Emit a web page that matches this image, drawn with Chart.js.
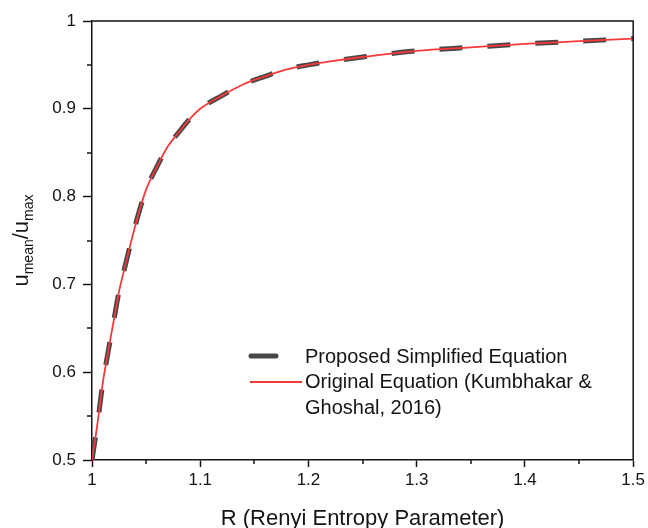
<!DOCTYPE html>
<html lang="en">
<head>
<meta charset="UTF-8">
<title>Velocity ratio vs Renyi entropy parameter</title>
<script src="https://cdn.jsdelivr.net/npm/chart.js@4.4.1/dist/chart.umd.min.js"></script>
<style>
  body {margin: 0; background: #fff;}
  #wrap {width: 648px; height: 528px;}
</style>
</head>
<body>
<div id="wrap"><canvas id="ratioChart" width="648" height="528"></canvas></div>
<script>
// R (Renyi entropy parameter) and the u_mean/u_max ratio for both equations
const rValues = [1.000, 1.005, 1.010, 1.015, 1.020, 1.025, 1.030, 1.035, 1.040, 1.045,
                 1.050, 1.060, 1.070, 1.080, 1.090, 1.100, 1.120, 1.140, 1.160, 1.180,
                 1.200, 1.220, 1.250, 1.300, 1.350, 1.400, 1.450, 1.500];
const simplifiedRatio = [0.500, 0.541, 0.588, 0.624, 0.658, 0.692, 0.718, 0.743, 0.767, 0.789,
                         0.808, 0.834, 0.857, 0.873, 0.888, 0.900, 0.915, 0.928, 0.937, 0.945,
                         0.950, 0.954, 0.959, 0.966, 0.970, 0.974, 0.977, 0.980];
const originalRatio = [0.500, 0.541, 0.588, 0.624, 0.658, 0.692, 0.718, 0.743, 0.767, 0.789,
                       0.808, 0.834, 0.857, 0.873, 0.888, 0.900, 0.915, 0.928, 0.937, 0.945,
                       0.950, 0.954, 0.959, 0.966, 0.970, 0.974, 0.977, 0.980];
const xTicks = [1, 1.1, 1.2, 1.3, 1.4, 1.5];
const yTicks = [0.5, 0.6, 0.7, 0.8, 0.9, 1];
const seriesNames = [['Proposed Simplified Equation'],
                     ['Original Equation (Kumbhakar &', 'Ghoshal, 2016)']];

const FONT = "'Liberation Sans', Arial, sans-serif";
const INK = '#141414';

function toPoints(ys) {
  return rValues.map((r, i) => ({x: r, y: ys[i]}));
}

// frame on top/right, minor ticks, y title with subscripts, legend
const extras = {
  id: 'extras',
  afterDraw(chart) {
    const {ctx, chartArea: a, scales: {x, y}} = chart;
    ctx.save();
    ctx.setLineDash([]);
    ctx.strokeStyle = INK;
    ctx.lineWidth = 1.5;
    ctx.beginPath();
    ctx.moveTo(a.left, a.top);
    ctx.lineTo(a.right, a.top);
    ctx.lineTo(a.right, a.bottom);
    ctx.stroke();

    ctx.beginPath();
    for (let i = 0; i < xTicks.length - 1; i++) {
      const px = Math.round(x.getPixelForValue((xTicks[i] + xTicks[i + 1]) / 2));
      ctx.moveTo(px, a.bottom);
      ctx.lineTo(px, a.bottom + 4);
    }
    for (let i = 0; i < yTicks.length - 1; i++) {
      const py = Math.round(y.getPixelForValue((yTicks[i] + yTicks[i + 1]) / 2));
      ctx.moveTo(a.left, py);
      ctx.lineTo(a.left - 5, py);
    }
    ctx.stroke();

    // y axis title: u_mean / u_max
    const parts = [
      {t: 'u', size: 22, dy: 0},
      {t: 'mean', size: 14, dy: 5},
      {t: '/', size: 22, dy: 0},
      {t: 'u', size: 22, dy: 0},
      {t: 'max', size: 14, dy: 5}
    ];
    let total = 0;
    parts.forEach(p => {
      ctx.font = p.size + 'px ' + FONT;
      p.w = ctx.measureText(p.t).width;
      total += p.w;
    });
    ctx.translate(28, (a.top + a.bottom) / 2);
    ctx.rotate(-Math.PI / 2);
    ctx.fillStyle = INK;
    ctx.textBaseline = 'alphabetic';
    ctx.textAlign = 'left';
    let cx = -total / 2;
    parts.forEach(p => {
      ctx.font = p.size + 'px ' + FONT;
      ctx.fillText(p.t, cx, p.dy);
      cx += p.w;
    });
    ctx.restore();

    // legend
    ctx.save();
    ctx.setLineDash([]);
    const ds = chart.data.datasets;
    const simple = ds.find(d => d.key === 'simplified');
    const orig = ds.find(d => d.key === 'original');
    ctx.lineCap = 'round';
    ctx.strokeStyle = simple.borderColor;
    ctx.lineWidth = simple.borderWidth;
    ctx.beginPath();
    ctx.moveTo(251, 356);
    ctx.lineTo(276, 356);
    ctx.stroke();
    ctx.lineCap = 'butt';
    ctx.strokeStyle = orig.borderColor;
    ctx.lineWidth = orig.borderWidth;
    ctx.beginPath();
    ctx.moveTo(250, 382);
    ctx.lineTo(302, 382);
    ctx.stroke();

    ctx.fillStyle = INK;
    ctx.font = '20px ' + FONT;
    ctx.textBaseline = 'middle';
    ctx.textAlign = 'left';
    let ly = 357;
    seriesNames.forEach(lines => {
      lines.forEach(line => {
        ctx.fillText(line, 305, ly);
        ly += 25.5;
      });
    });
    ctx.restore();
  }
};

new Chart(document.getElementById('ratioChart'), {
  type: 'line',
  data: {
    datasets: [
      {
        key: 'original',
        label: seriesNames[1].join(' '),
        data: toPoints(originalRatio),
        borderColor: '#f53a3a',
        borderWidth: 1.8,
        pointRadius: 0,
        cubicInterpolationMode: 'monotone',
        order: 0
      },
      {
        key: 'simplified',
        label: seriesNames[0].join(' '),
        data: toPoints(simplifiedRatio),
        borderColor: '#474747',
        borderWidth: 5,
        borderDash: [23, 25],
        pointRadius: 0,
        cubicInterpolationMode: 'monotone',
        order: 1
      }
    ]
  },
  options: {
    responsive: false,
    animation: false,
    devicePixelRatio: 1,
    layout: {padding: {top: 21, right: 13, left: 0, bottom: 0}},
    plugins: {legend: {display: false}, tooltip: {enabled: false}},
    scales: {
      x: {
        type: 'linear',
        min: 1,
        max: 1.5,
        afterFit: s => { s.height = 68; },
        afterBuildTicks: s => { s.ticks = xTicks.map(v => ({value: v})); },
        border: {color: INK, width: 1.5},
        grid: {drawOnChartArea: false, tickLength: 7, tickWidth: 1.5, tickColor: INK},
        ticks: {
          padding: 3,
          color: INK,
          font: {family: FONT, size: 17},
          maxRotation: 0,
          callback: v => String(+v.toFixed(2))
        },
        title: {
          display: true,
          text: 'R (Renyi Entropy Parameter)',
          color: INK,
          font: {family: FONT, size: 22, lineHeight: 1},
          padding: {top: 0, bottom: -2}
        }
      },
      y: {
        type: 'linear',
        min: 0.5,
        max: 1,
        afterFit: s => { s.width = 92; },
        afterBuildTicks: s => { s.ticks = yTicks.map(v => ({value: v})); },
        border: {color: INK, width: 1.5},
        grid: {drawOnChartArea: false, tickLength: 9, tickWidth: 1.5, tickColor: INK},
        ticks: {
          padding: 7,
          color: INK,
          font: {family: FONT, size: 17},
          callback: v => String(+v.toFixed(2))
        }
      }
    }
  },
  plugins: [extras]
});
</script>
</body>
</html>
